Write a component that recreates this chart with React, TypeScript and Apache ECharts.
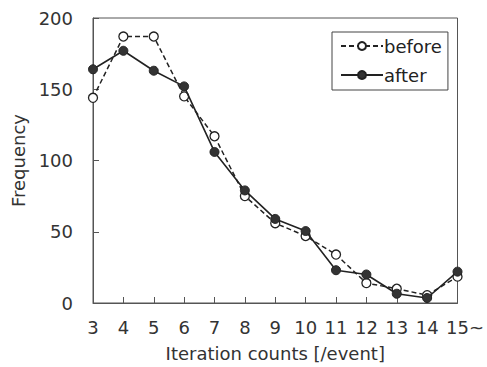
import React, { useEffect, useRef } from "react";
import * as echarts from "echarts";

const categories = ["3", "4", "5", "6", "7", "8", "9", "10", "11", "12", "13", "14", "15~"];
const beforeValues = [144, 187, 187, 145, 117, 75, 56, 47, 34, 14, 10, 5.5, 18.5];
const afterValues = [164, 177, 163, 152, 106, 79, 59, 50.5, 23, 20, 6.5, 3.5, 22];
const yTicks = { min: 0, max: 200, interval: 50 };

export default function App() {
  const ref = useRef<HTMLDivElement>(null);
  useEffect(() => {
    if (!ref.current) return;
    const chart = echarts.init(ref.current, null, { renderer: "svg" });
    const font = "DejaVu Sans, sans-serif";
    chart.setOption({
      animation: false,
      backgroundColor: "#fff",
      textStyle: { fontFamily: font },
      grid: {
        left: 93,
        right: 29,
        top: 18,
        bottom: 64,
        show: true,
        borderColor: "#555",
        borderWidth: 1,
        backgroundColor: "transparent",
      },
      legend: {
        left: 332,
        top: 32,
        orient: "vertical",
        backgroundColor: "#fff",
        borderColor: "#444",
        borderWidth: 1,
        padding: [5, 6, 6, 8],
        itemGap: 11,
        itemWidth: 42,
        itemHeight: 10,
        textStyle: { fontSize: 18, color: "#222", fontFamily: font, padding: [0, 0, 0, -4] },
        data: ["before", "after"],
      },
      xAxis: {
        type: "category",
        data: categories,
        boundaryGap: false,
        name: "Iteration counts [/event]",
        nameLocation: "middle",
        nameGap: 41,
        nameTextStyle: { fontSize: 18, color: "#333", fontFamily: font },
        axisLine: { show: true, lineStyle: { color: "#555", width: 1 } },
        axisTick: { show: true, inside: true, length: 6, interval: 0, lineStyle: { color: "#555" } },
        axisLabel: {
          fontSize: 18,
          color: "#333",
          margin: 15,
          interval: 0,
          fontFamily: font,
          formatter: (v: string) => (v.endsWith("~") ? "{last|" + v + "}" : v),
          rich: {
            last: { fontSize: 18, color: "#333", fontFamily: font, padding: [0, 0, 0, 15] },
          },
        },
        splitLine: { show: false },
      },
      yAxis: {
        type: "value",
        min: yTicks.min,
        max: yTicks.max,
        interval: yTicks.interval,
        name: "Frequency",
        nameLocation: "middle",
        nameGap: 60,
        nameTextStyle: { fontSize: 18, color: "#333", fontFamily: font },
        axisLine: { show: true, lineStyle: { color: "#555", width: 1 } },
        axisTick: { show: true, inside: true, length: 6, lineStyle: { color: "#555" } },
        axisLabel: { fontSize: 18, color: "#333", margin: 20, fontFamily: font },
        splitLine: { show: false },
      },
      series: [
        {
          name: "before",
          type: "line",
          data: beforeValues,
          symbol: "circle",
          symbolSize: 9,
          lineStyle: { color: "#222", width: 1.5, type: [5, 3] },
          itemStyle: { color: "#fff", borderColor: "#222", borderWidth: 1.3 },
          z: 3,
        },
        {
          name: "after",
          type: "line",
          data: afterValues,
          symbol: "circle",
          symbolSize: 9,
          lineStyle: { color: "#222", width: 1.6 },
          itemStyle: { color: "#333", borderColor: "#222", borderWidth: 1 },
          z: 4,
        },
      ],
    });
    return () => chart.dispose();
  }, []);
  return <div ref={ref} style={{ width: 487, height: 367, position: "absolute", left: 0, top: 0 }} />;
}
